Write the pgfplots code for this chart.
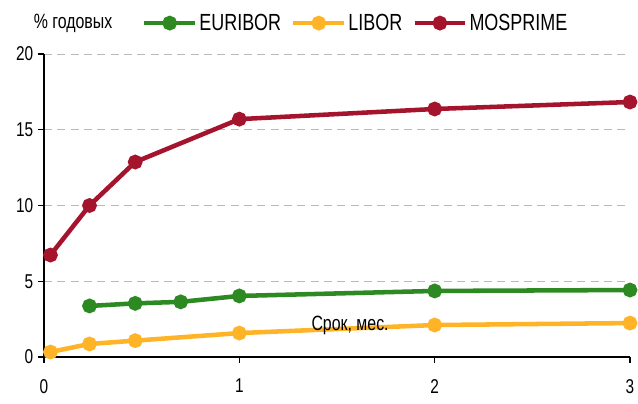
\documentclass[border=0pt]{standalone}
\usepackage{fontspec}
\setmainfont{Liberation Sans}[FakeStretch=0.77]
\usepackage{pgfplots}
\pgfplotsset{compat=1.18}
\definecolor{eurc}{HTML}{2D8A22}
\definecolor{libc}{HTML}{FFB428}
\definecolor{mosc}{HTML}{A5142D}
\begin{document}
\begin{tikzpicture}
\useasboundingbox (-33pt,-34.5pt) rectangle (445.5pt,267.75pt);
\begin{axis}[
  width=439.5pt, height=227.25pt, scale only axis,
  xmin=0, xmax=3, ymin=0, ymax=20,
  axis x line*=bottom, axis y line*=left,
  axis line style={-, line width=0.9pt},
  xtick={0,1,2,3}, ytick={0,5,10,15,20},
  tick align=outside, major tick length=4.5pt,
  tick style={black, line width=0.9pt},
  ymajorgrids, grid style={gray!55, line width=0.7pt, dash pattern=on 6pt off 4pt},
  /pgf/number format/assume math mode=true,
  ticklabel style={font=\fontsize{15}{17}\selectfont},
  xticklabel style={yshift=-8.5pt},
  clip=false,
  every axis plot/.append style={line width=3.4pt, mark=*, mark size=3.8pt},
  legend style={draw=none, fill=none, inner sep=0pt,
    nodes={inner sep=1.5pt},
    at={(axis description cs:0.167,1.102)}, anchor=west,
    legend columns=3, font=\fontsize{17.5}{19}\selectfont,
    /tikz/every even column/.append style={column sep=6pt}},
  legend image code/.code={\draw[mark repeat=2,mark phase=2,#1] plot coordinates {(0pt,0pt) (19pt,0pt) (38pt,0pt)};},
]
\addplot[eurc, mark options={fill=eurc}] coordinates {(0.233,3.37) (0.467,3.54) (0.7,3.64) (1,4.03) (2,4.36) (3,4.42)};
\addlegendentry{EURIBOR}
\addplot[libc, mark options={fill=libc}] coordinates {(0.033,0.33) (0.233,0.86) (0.467,1.08) (1,1.58) (2,2.11) (3,2.24)};
\addlegendentry{LIBOR}
\addplot[mosc, mark options={fill=mosc}] coordinates {(0.033,6.73) (0.233,10.0) (0.467,12.87) (1,15.7) (2,16.37) (3,16.83)};
\addlegendentry{MOSPRIME}
\node[font=\fontsize{15.5}{17}\selectfont] at (axis cs:1.567,2.1) {Срок, мес.};
\node[font=\fontsize{15.5}{17}\selectfont] at (axis description cs:0.0495,1.10) {\% годовых};
\end{axis}
\end{tikzpicture}
\end{document}
